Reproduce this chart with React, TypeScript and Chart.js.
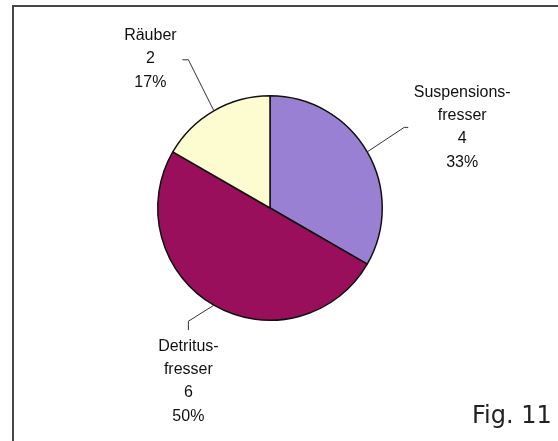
import React, { useEffect, useRef } from "react";
import { Chart, registerables } from "chart.js";

Chart.register(...registerables);

const categories: string[][] = [["Suspensions-", "fresser"], ["Detritus-", "fresser"], ["Räuber"]];
const values: number[] = [4, 6, 2];
const colors: string[] = ["#9a80d2", "#9a0f5c", "#fdfcd0"];
const figLabel = "Fig. 11";

// per-slice leader/label geometry relative to slice edge midpoint
const leader = [
  { elbow: [37, -24.5], tick: [41, -24.5], text: [95, -59.5] },
  { elbow: [-25.5, 16], tick: [-25.5, 25], text: [-25.5, 41] },
  { elbow: [-25.5, -51], tick: [-31.5, -51], text: [-63.5, -75] },
];

const labelPlugin = {
  id: "outLabels",
  beforeDraw(chart: any) {
    const ctx = chart.ctx;
    ctx.save();
    ctx.fillStyle = "#ffffff";
    ctx.fillRect(0, 0, chart.width, chart.height);
    ctx.strokeStyle = "#4a4448";
    ctx.lineWidth = 2;
    ctx.beginPath();
    ctx.moveTo(13, 441);
    ctx.lineTo(13, 6);
    ctx.lineTo(558, 6);
    ctx.stroke();
    ctx.restore();
  },
  afterDatasetsDraw(chart: any) {
    const ctx = chart.ctx;
    const meta = chart.getDatasetMeta(0);
    const total = values.reduce((a, b) => a + b, 0);
    ctx.save();
    meta.data.forEach((arc: any, i: number) => {
      const mid = (arc.startAngle + arc.endAngle) / 2;
      const ex = arc.x + Math.cos(mid) * arc.outerRadius;
      const ey = arc.y + Math.sin(mid) * arc.outerRadius;
      const L = leader[i];
      ctx.strokeStyle = "#333333";
      ctx.lineWidth = 1;
      ctx.beginPath();
      ctx.moveTo(ex, ey);
      ctx.lineTo(ex + L.elbow[0], ey + L.elbow[1]);
      ctx.lineTo(ex + L.tick[0], ey + L.tick[1]);
      ctx.stroke();
      const lines = [...categories[i], String(values[i]), Math.round((values[i] / total) * 100) + "%"];
      ctx.fillStyle = "#111111";
      ctx.font = '16px "Liberation Sans", Arial, sans-serif';
      ctx.textAlign = "center";
      ctx.textBaseline = "middle";
      lines.forEach((t, j) => {
        ctx.fillText(t, ex + L.text[0], ey + L.text[1] + j * 23.3);
      });
    });
    ctx.fillStyle = "#222222";
    ctx.font = '24px "DejaVu Sans", "Open Sans", sans-serif';
    ctx.textAlign = "left";
    ctx.textBaseline = "alphabetic";
    ctx.fillText(figLabel, 472, 423);
    ctx.restore();
  },
};

export default function App() {
  const ref = useRef<HTMLCanvasElement>(null);
  useEffect(() => {
    if (!ref.current) return;
    const chart = new Chart(ref.current, {
      type: "pie",
      data: {
        labels: categories.map((c) => c.join("")),
        datasets: [
          {
            data: values,
            backgroundColor: colors,
            borderColor: "#111111",
            borderWidth: 1.5,
          },
        ],
      },
      options: {
        responsive: false,
        animation: false,
        layout: { padding: { left: 157, right: 175, top: 95, bottom: 120 } },
        plugins: { legend: { display: false }, tooltip: { enabled: false } },
      },
      plugins: [labelPlugin],
    });
    return () => chart.destroy();
  }, []);
  return (
    <div style={{ position: "absolute", left: 0, top: 0, width: 558, height: 441 }}>
      <canvas ref={ref} width={558} height={441} style={{ width: 558, height: 441 }} />
    </div>
  );
}
